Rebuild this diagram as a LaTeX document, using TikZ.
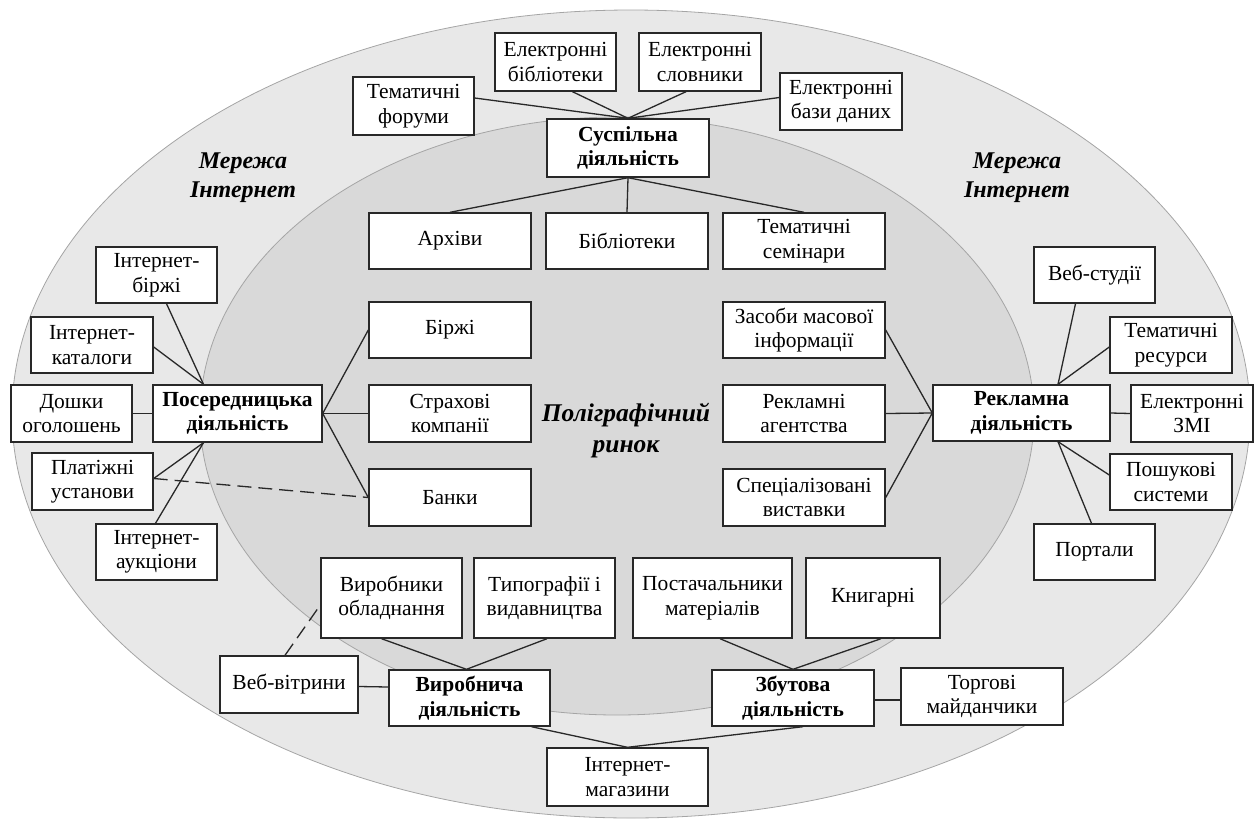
\documentclass[tikz,border=0pt]{standalone}
\usepackage{fontspec}
\setmainfont{Liberation Serif}
\usetikzlibrary{calc}
\definecolor{outerfill}{RGB}{232,232,232}
\definecolor{innerfill}{RGB}{217,217,217}
\definecolor{ringline}{RGB}{165,165,165}
\definecolor{boxline}{RGB}{40,40,40}
\tikzset{
  bx/.style={draw=boxline, fill=white, line width=1.4pt, align=center, inner sep=0pt,
    font=\fontsize{21.5}{24.5}\selectfont},
  bxb/.style={bx, font=\fontsize{21.5}{24.5}\selectfont\bfseries},
  conn/.style={draw=boxline, line width=1.3pt},
  dconn/.style={conn, dash pattern=on 14pt off 7pt},
  lbl/.style={align=center, font=\fontsize{24}{29}\selectfont\bfseries\itshape},
  lblc/.style={align=center, font=\fontsize{25.5}{31}\selectfont\bfseries\itshape},
  wh/.style 2 args={minimum width=#1, minimum height=#2}
}
\begin{document}
\begin{tikzpicture}[x=1pt,y=-1pt]
\useasboundingbox (0,0) rectangle (1258,822);
% ellipses
\draw[fill=outerfill, draw=ringline, line width=0.8pt] (631,414) ellipse [x radius=619, y radius=404];
\draw[fill=innerfill, draw=ringline, line width=0.8pt] (617,416) ellipse [x radius=417, y radius=299];

% labels
\node[lbl] (netL) at (243,178) {Мережа\\Інтернет};
\node[lbl] (netR) at (1017,178) {Мережа\\Інтернет};
\node[lblc] (polig) at (626,431) {Поліграфічний\\ринок};

% top group
\node[bx, wh={121}{58}] (tforum) at (413.5,106) {Тематичні\\форуми};
\node[bx, wh={121}{58}] (ebib) at (555.5,62) {Електронні\\бібліотеки};
\node[bx, wh={122}{58}] (eslov) at (700,62) {Електронні\\словники};
\node[bx, wh={122}{57}] (ebaz) at (841,101.5) {Електронні\\бази даних};
\node[bxb, wh={162}{58}] (susp) at (628,148) {Суспільна\\діяльність};
\node[bx, wh={162}{56}] (arch) at (450,241) {Архіви};
\node[bx, wh={162}{56}] (bibl) at (627,241) {Бібліотеки};
\node[bx, wh={162}{56}] (tsem) at (804,241) {Тематичні\\семінари};

% middle columns
\node[bx, wh={162}{56}] (birzh) at (450,330) {Біржі};
\node[bx, wh={162}{57}] (strakh) at (450,413.5) {Страхові\\компанії};
\node[bx, wh={162}{57}] (banky) at (450,497.5) {Банки};
\node[bx, wh={162}{56}] (zmi) at (804,330) {Засоби масової\\інформації};
\node[bx, wh={162}{57}] (ragent) at (804,413.5) {Рекламні\\агентства};
\node[bx, wh={162}{57}] (spec) at (804,497.5) {Спеціалізовані\\виставки};

% left group
\node[bxb, wh={169}{57}] (posered) at (237.5,413.5) {Посередницька\\діяльність};
\node[bx, wh={121}{56}] (ibirzh) at (156.5,275) {Інтернет-\\біржі};
\node[bx, wh={122}{56}] (ikatal) at (92,345) {Інтернет-\\каталоги};
\node[bx, wh={121}{57}] (doshky) at (71.5,413.5) {Дошки\\оголошень};
\node[bx, wh={121}{57}] (platizh) at (92.5,481.5) {Платіжні\\установи};
\node[bx, wh={121}{56}] (iauk) at (156.5,552) {Інтернет-\\аукціони};

% right group
\node[bxb, wh={177}{56}] (reklama) at (1021.5,413) {Рекламна\\діяльність};
\node[bx, wh={121}{56}] (webst) at (1094.5,275) {Веб-студії};
\node[bx, wh={122}{56}] (tres) at (1171,345) {Тематичні\\ресурси};
\node[bx, wh={122}{57}] (ezmi) at (1192,413.5) {Електронні\\ЗМІ};
\node[bx, wh={122}{56}] (poshuk) at (1171,482) {Пошукові\\системи};
\node[bx, wh={121}{56}] (portal) at (1094.5,552) {Портали};

% bottom group
\node[bx, wh={141}{80}] (vobl) at (391.5,598) {Виробники\\обладнання};
\node[bx, wh={141}{80}] (typo) at (544.5,598) {Типографії і\\видавництва};
\node[bx, wh={159}{80}] (postach) at (712.5,598) {Постачальники\\матеріалів};
\node[bx, wh={134}{80}] (knyh) at (873,598) {Книгарні};
\node[bx, wh={138}{57}] (webvit) at (289,684.5) {Веб-вітрини};
\node[bxb, wh={161}{56}] (vyrob) at (469.5,698) {Виробнича\\діяльність};
\node[bxb, wh={162}{56}] (zbut) at (793,698) {Збутова\\діяльність};
\node[bx, wh={162}{57}] (torg) at (982,696.5) {Торгові\\майданчики};
\node[bx, wh={161}{58}] (imag) at (627.5,777) {Інтернет-\\магазини};

% connectors: top
\path[conn] ($(tforum.east)+(0,-8)$) -- (susp.north);
\path[conn] ($(ebib.south)+(17,0)$) -- (susp.north);
\path[conn] ($(eslov.south)+(-14,0)$) -- (susp.north);
\path[conn] ($(ebaz.west)+(0,-4)$) -- (susp.north);
\path[conn] (susp.south) -- (arch.north);
\path[conn] (susp.south) -- (bibl.north);
\path[conn] (susp.south) -- (tsem.north);

% left
\coordinate (pt) at ($(posered.north)+(-34,0)$);
\coordinate (pb) at ($(posered.south)+(-34,0)$);
\path[conn] ($(ibirzh.south)+(10,0)$) -- (pt);
\path[conn] ($(ikatal.east)+(0,2)$) -- (pt);
\path[conn] (doshky.east) -- (posered.west);
\path[conn] ($(platizh.east)+(0,-3)$) -- (pb);
\path[conn] ($(iauk.north)+(-1,0)$) -- (pb);
\path[dconn] ($(platizh.east)+(0,-3)$) -- (banky.west);
\path[conn] (posered.east) -- (birzh.west);
\path[conn] (posered.east) -- (strakh.west);
\path[conn] (posered.east) -- (banky.west);

% right
\coordinate (rt) at ($(reklama.north)+(36.5,0)$);
\coordinate (rb) at ($(reklama.south)+(36.5,0)$);
\path[conn] ($(webst.south)+(-19,0)$) -- (rt);
\path[conn] ($(tres.west)+(0,2)$) -- (rt);
\path[conn] (ezmi.west) -- (reklama.east);
\path[conn] ($(poshuk.west)+(0,-7)$) -- (rb);
\path[conn] ($(portal.north)+(-3,0)$) -- (rb);
\path[conn] (zmi.east) -- (reklama.west);
\path[conn] (ragent.east) -- (reklama.west);
\path[conn] (spec.east) -- (reklama.west);

% bottom
\path[conn] ($(vobl.south)+(-10,0)$) -- ($(vyrob.north)+(-3,0)$);
\path[conn] ($(typo.south)+(2.5,0)$) -- ($(vyrob.north)+(-3,0)$);
\path[conn] ($(postach.south)+(7.5,0)$) -- (zbut.north);
\path[conn] ($(knyh.south)+(8,0)$) -- (zbut.north);
\path[conn] ($(webvit.east)+(0,2)$) -- ($(vyrob.west)+(0,-11)$);
\path[conn] ($(zbut.east)+(0,2)$) -- ($(torg.west)+(0,3.5)$);
\path[dconn] ($(webvit.north)+(-4,0)$) -- ($(vobl.west)+(0,7)$);
\path[conn] ($(vyrob.south)+(62,0)$) -- (imag.north);
\path[conn] ($(zbut.south)+(10,0)$) -- (imag.north);
\end{tikzpicture}
\end{document}
